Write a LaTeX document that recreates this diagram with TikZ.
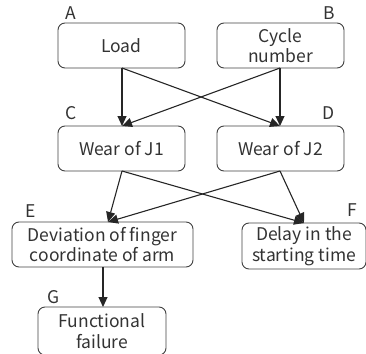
\documentclass[tikz,border=0pt]{standalone}
\usepackage{fontspec}
\setmainfont{Noto Sans CJK JP}
\usetikzlibrary{arrows.meta}
\begin{document}
\begin{tikzpicture}[x=1pt,y=-1pt,
  box/.style={draw=black!75, line width=0.9pt, rounded corners=7pt, inner sep=0pt,
    align=center, font=\fontsize{17.5}{20.5}\selectfont, text=black!80},
  tag/.style={font=\fontsize{17.5}{20}\selectfont, text=black!80, inner sep=0pt},
  link/.style={line width=1.1pt, draw=black!85, -{Triangle[length=10pt,width=9pt]}}]
\useasboundingbox (0,0) rectangle (366,353);
% boxes
\node[box, minimum width=127pt, minimum height=45pt] (A) at (121.5,45.5) {Load};
\node[box, minimum width=127pt, minimum height=45pt] (B) at (280.5,45.5) {Cycle\\number};
\node[box, minimum width=127pt, minimum height=45pt] (C) at (121.5,148.5) {Wear of J1};
\node[box, minimum width=127pt, minimum height=45pt] (D) at (280.5,148.5) {Wear of J2};
\node[box, minimum width=181pt, minimum height=45pt] (E) at (102.5,244.5) {Deviation of finger\\coordinate of arm};
\node[box, minimum width=124pt, minimum height=46pt] (F) at (304,246) {Delay in the\\starting time};
\node[box, minimum width=128pt, minimum height=48pt] (G) at (102,331) {Functional\\failure};
% letter tags
\node[tag] (tA) at (71,13.5) {A};
\node[tag] (tB) at (329,13.5) {B};
\node[tag] (tC) at (71,113.5) {C};
\node[tag] (tD) at (329,113.5) {D};
\node[tag] (tE) at (31,211) {E};
\node[tag] (tF) at (352,210) {F};
\node[tag] (tG) at (53.5,297.5) {G};
% connectors
\coordinate (Ab) at (122,68);
\coordinate (Bb) at (280,68);
\coordinate (Ct) at (122,126);
\coordinate (Dt) at (280,126);
\coordinate (Cb) at (122,171);
\coordinate (Db) at (280,171);
\coordinate (Et) at (108,222);
\coordinate (Ft) at (304,223);
\coordinate (Eb) at (103,267);
\coordinate (Gt) at (103,307);
\draw[link] (Ab) -- (Ct);
\draw[link] (Ab) -- (Dt);
\draw[link] (Bb) -- (Dt);
\draw[link] (Bb) -- (Ct);
\draw[link] (Cb) -- (Et);
\draw[link] (Cb) -- (Ft);
\draw[link] (Db) -- (Et);
\draw[link] (Db) -- (Ft);
\draw[link] (Eb) -- (Gt);
\end{tikzpicture}
\end{document}
